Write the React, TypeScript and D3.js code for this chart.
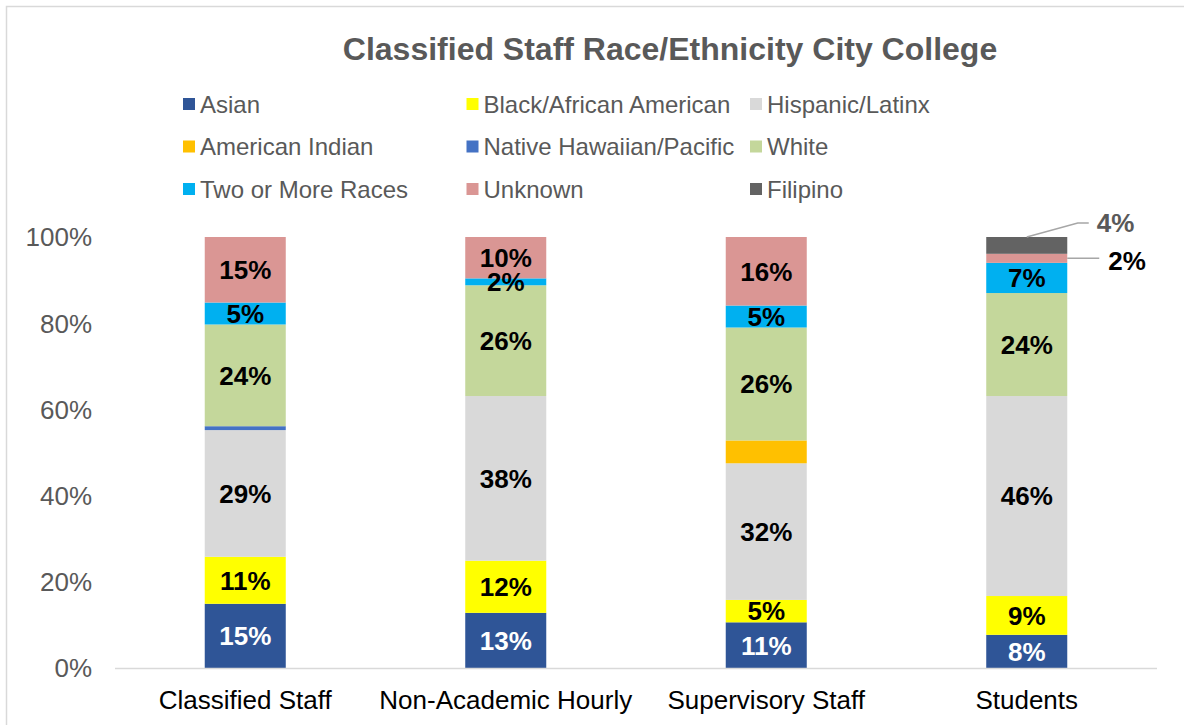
import * as d3 from 'd3';

// categories and series (percent of each group)
const categories = ['Classified Staff', 'Non-Academic Hourly', 'Supervisory Staff', 'Students'];
const seriesNames = [
  'Asian',
  'Black/African American',
  'Hispanic/Latinx',
  'American Indian',
  'Native Hawaiian/Pacific',
  'White',
  'Two or More Races',
  'Unknown',
  'Filipino',
];
const asian = [14.9, 12.8, 10.6, 7.7];
const black = [10.9, 12.1, 5.2, 9.0];
const hispanic = [29.4, 38.2, 31.7, 46.4];
const americanIndian = [0, 0, 5.3, 0];
const nativeHawaiian = [0.9, 0, 0, 0];
const white = [23.6, 25.7, 26.2, 23.9];
const twoOrMore = [5.1, 1.6, 5.1, 7.0];
const unknown = [15.2, 9.6, 15.9, 2.1];
const filipino = [0, 0, 0, 3.9];
const yTicks = [0, 20, 40, 60, 80, 100];

const colors = ['#2F5597', '#FFFF00', '#D9D9D9', '#FFC000', '#4472C4', '#C4D79B', '#00B0F0', '#DA9694', '#636363'];
// series that get no data labels inside the bars
const unlabeled = ['American Indian', 'Native Hawaiian/Pacific'];
// labels placed outside the bar with a leader line
const callouts = [
  { category: 'Students', series: 'Filipino', color: '#595959' },
  { category: 'Students', series: 'Unknown', color: '#000000' },
];

const WIDTH = 1184;
const HEIGHT = 725;
const FONT = '"Liberation Sans", Arial, Helvetica, sans-serif';

export default function App() {
  const values = [asian, black, hispanic, americanIndian, nativeHawaiian, white, twoOrMore, unknown, filipino];
  const rows = categories.map((c, i) => {
    const row: Record<string, any> = { category: c };
    seriesNames.forEach((s, j) => (row[s] = values[j][i]));
    return row;
  });
  const stacked = d3.stack<Record<string, any>>().keys(seriesNames)(rows);

  const x = d3
    .scaleBand<string>()
    .domain(categories)
    .range([115, 1157])
    .paddingInner(0.689)
    .paddingOuter(0.3445);
  const y = d3.scaleLinear().domain([0, 100]).range([668, 237]);
  const fmt = (v: number) => `${Math.round(v)}%`;

  const isCallout = (cat: string, s: string) => callouts.some((c) => c.category === cat && c.series === s);

  return (
    <div style={{ position: 'absolute', left: 0, top: 0 }}>
      <svg width={WIDTH} height={HEIGHT} style={{ display: 'block', fontFamily: FONT }}>
        <rect x={0} y={0} width={WIDTH} height={HEIGHT} fill="#fff" />
        <rect x={6.5} y={6.5} width={WIDTH + 20} height={HEIGHT + 20} fill="none" stroke="#D9D9D9" strokeWidth={1.5} />

        {/* title */}
        <text x={670} y={60} textAnchor="middle" fontSize={32} fontWeight="bold" fill="#595959">
          Classified Staff Race/Ethnicity City College
        </text>

        {/* legend */}
        {seriesNames.map((s, i) => {
          const col = i % 3;
          const row = Math.floor(i / 3);
          const lx = 183 + col * 283.5;
          const ly = 104 + row * 42.5;
          return (
            <g key={s}>
              <rect x={lx} y={ly - 6} width={12} height={12} fill={colors[i]} />
              <text x={lx + 17} y={ly} dy="0.36em" fontSize={24} fill="#595959">
                {s}
              </text>
            </g>
          );
        })}

        {/* y axis labels */}
        {yTicks.map((t) => (
          <text key={t} x={92} y={y(t)} dy="0.36em" textAnchor="end" fontSize={26} fill="#595959">
            {t}%
          </text>
        ))}

        {/* bars */}
        {stacked.map((layer, si) => (
          <g key={layer.key} fill={colors[si]}>
            {layer.map((d, ci) =>
              d[1] - d[0] > 0 ? (
                <rect
                  key={ci}
                  x={x(categories[ci])}
                  y={y(d[1])}
                  width={x.bandwidth()}
                  height={y(d[0]) - y(d[1])}
                />
              ) : null
            )}
          </g>
        ))}

        {/* baseline */}
        <line x1={115} x2={1157} y1={y(0) + 0.5} y2={y(0) + 0.5} stroke="#D9D9D9" strokeWidth={1.5} />

        {/* inside labels */}
        {stacked.map((layer, si) =>
          layer.map((d, ci) => {
            const v = d[1] - d[0];
            const cat = categories[ci];
            if (v <= 0 || unlabeled.includes(layer.key) || isCallout(cat, layer.key)) return null;
            return (
              <text
                key={`${layer.key}-${ci}`}
                x={(x(cat) ?? 0) + x.bandwidth() / 2}
                y={y((d[0] + d[1]) / 2)}
                dy="0.36em"
                textAnchor="middle"
                fontSize={26}
                fontWeight="bold"
                fill={si === 0 ? '#FFFFFF' : '#000000'}
              >
                {fmt(v)}
              </text>
            );
          })
        )}

        {/* callout labels */}
        {callouts.map((c, k) => {
          const si = seriesNames.indexOf(c.series);
          const ci = categories.indexOf(c.category);
          const d = stacked[si][ci];
          const bx = x(c.category) ?? 0;
          const cx = bx + x.bandwidth() / 2;
          const right = bx + x.bandwidth();
          if (k === 0) {
            const ty = y(d[1]) - 14;
            return (
              <g key={c.series}>
                <polyline
                  points={`${cx},${y(d[1])} ${cx + 51},${ty} ${cx + 62},${ty}`}
                  fill="none"
                  stroke="#A6A6A6"
                  strokeWidth={1.5}
                />
                <text x={cx + 70} y={ty} dy="0.36em" fontSize={26} fontWeight="bold" fill={c.color}>
                  {fmt(d[1] - d[0])}
                </text>
              </g>
            );
          }
          const my = y((d[0] + d[1]) / 2);
          return (
            <g key={c.series}>
              <line x1={right} x2={right + 32} y1={my} y2={my} stroke="#A6A6A6" strokeWidth={1.5} />
              <text x={right + 41} y={my + 2} dy="0.36em" fontSize={26} fontWeight="bold" fill={c.color}>
                {fmt(d[1] - d[0])}
              </text>
            </g>
          );
        })}

        {/* x axis labels */}
        {categories.map((c) => (
          <text
            key={c}
            x={(x(c) ?? 0) + x.bandwidth() / 2}
            y={700}
            dy="0.36em"
            textAnchor="middle"
            fontSize={26}
            fill="#000000"
          >
            {c}
          </text>
        ))}
      </svg>
    </div>
  );
}
